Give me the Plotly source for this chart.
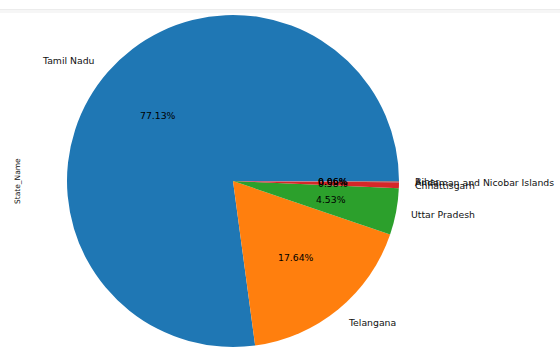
import math
import plotly.graph_objects as go

states = ["Tamil Nadu", "Telangana", "Uttar Pradesh", "Chhattisgarh",
          "Andaman and Nicobar Islands", "Bihar"]
shares = [77.13, 17.64, 4.53, 0.58, 0.06, 0.06]
colors = ["#1f77b4", "#ff7f0e", "#2ca02c", "#d62728", "#9467bd", "#8c564b"]
axis_label = "State_Name"

W, H = 560, 358
CX, CY, R = 233, 181, 166  # pie centre/radius in pixels (from top-left)
FONT = "DejaVu Sans"
FS = 9.3

total = sum(shares)
# matplotlib-style: first slice starts at 3 o'clock, going counterclockwise.
# plotly (counterclockwise) places the END of the first slice at `rotation`.
rotation = 90 - 360 * shares[0] / total

fig = go.Figure()
fig.add_trace(go.Pie(
    labels=states, values=shares, sort=False, direction="counterclockwise",
    rotation=rotation, textinfo="none", hoverinfo="label+percent",
    marker=dict(colors=colors, line=dict(width=0)),
    domain=dict(x=[(CX - R) / W, (CX + R) / W],
                y=[(H - CY - R) / H, (H - CY + R) / H]),
    showlegend=False,
))

cum = 0.0
ann = []
for name, v in zip(states, shares):
    mid = (cum + v / 2) / total * 2 * math.pi
    cum += v
    c, s = math.cos(mid), math.sin(mid)
    lx, ly = 1.1 * c, 1.1 * s
    ann.append(dict(x=lx, y=ly, xref="x", yref="y", text=name, showarrow=False,
                    xanchor="left" if lx > 0 else "right", yanchor="middle",
                    xshift=-2 if lx > 0 else 0, borderpad=0,
                    font=dict(family=FONT, size=FS, color="#111111")))
    ann.append(dict(x=0.6 * c, y=0.6 * s, xref="x", yref="y",
                    text=f"{v / total * 100:.2f}%", showarrow=False,
                    xanchor="center", yanchor="middle", borderpad=0,
                    font=dict(family=FONT, size=FS, color="#000000")))

ann.append(dict(x=17 / W, y=1 - CY / H, xref="paper", yref="paper",
                text=axis_label, textangle=-90, showarrow=False,
                xanchor="center", yanchor="middle",
                font=dict(family=FONT, size=7.5, color="#111111")))

fig.update_layout(
    width=W, height=H, margin=dict(l=0, r=0, t=0, b=0),
    paper_bgcolor="white", plot_bgcolor="rgba(0,0,0,0)",
    xaxis=dict(range=[-CX / R, (W - CX) / R], visible=False, fixedrange=True),
    yaxis=dict(range=[-(H - CY) / R, CY / R], visible=False, fixedrange=True),
    annotations=ann,
    shapes=[
        dict(type="rect", xref="paper", yref="paper", x0=0, x1=1,
             y0=1 - 10 / H, y1=1 - 9 / H, line=dict(width=0), fillcolor="#ececec"),
        dict(type="rect", xref="paper", yref="paper", x0=0, x1=1,
             y0=1 - 13 / H, y1=1 - 10 / H, line=dict(width=0), fillcolor="#f6f6f6"),
    ],
)
fig.write_html("out.html", config={"displayModeBar": False},
               post_script="document.body.style.margin='0';"
                           "document.body.style.overflow='hidden';")
